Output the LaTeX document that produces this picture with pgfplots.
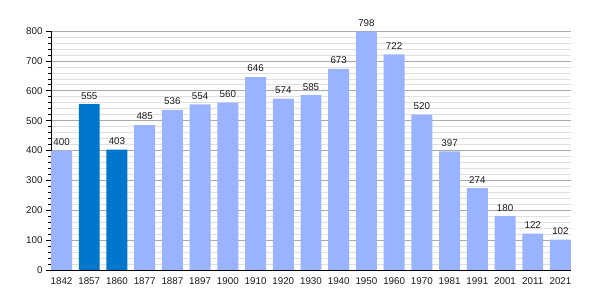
\documentclass[border=0pt]{standalone}
\usepackage{pgfplots}
\pgfplotsset{compat=1.18}
\usepackage{fontspec}
\setmainfont{Liberation Sans}
\definecolor{lightbar}{RGB}{153,179,255}
\definecolor{darkbar}{RGB}{0,119,204}
\definecolor{majgrid}{RGB}{170,170,170}
\definecolor{mingrid}{RGB}{224,224,224}
\begin{document}
\begin{tikzpicture}[x=1pt,y=1pt]
\path[use as bounding box] (0,0) rectangle (600,300);
\begin{axis}[
  at={(51pt,30pt)}, anchor=south west,
  scale only axis, width=520pt, height=239pt,
  /pgf/number format/assume math mode=true,
  ymin=0, ymax=800,
  xmin=-0.38, xmax=18.38,
  ytick={0,100,...,800},
  minor y tick num=4,
  xtick={0,...,18},
  xticklabels={1842,1857,1860,1877,1887,1897,1900,1910,1920,1930,1940,1950,1960,1970,1981,1991,2001,2011,2021},
  axis x line*=bottom, axis y line*=left,
  x axis line style={-, black, line width=0.8pt},
  y axis line style={-, black, line width=0.8pt},
  xtick style={draw=none},
  ytick style={black, line width=0.6pt},
  tick align=outside,
  major tick length=5pt, minor tick length=3pt,
  ymajorgrids, yminorgrids,
  major grid style={majgrid, line width=0.6pt},
  minor grid style={mingrid, line width=0.6pt},
  tick label style={font=\fontsize{9.8}{11}\selectfont, text=black!90},
  yticklabel style={xshift=0pt},
  xticklabel style={yshift=1pt},
  ybar, bar width=0.757, bar shift=0pt,
  nodes near coords,
  every node near coord/.append style={font=\fontsize{9.8}{11}\selectfont, text=black!90, yshift=1.5pt},
]
\addplot[fill=lightbar, draw=none] coordinates {
(0,400) (3,485) (4,536) (5,554) (6,560) (7,646) (8,574) (9,585) (10,673) (11,798) (12,722) (13,520) (14,397) (15,274) (16,180) (17,122) (18,102)};
\addplot[fill=darkbar, draw=none] coordinates {(1,555) (2,403)};
\end{axis}
\end{tikzpicture}
\end{document}
